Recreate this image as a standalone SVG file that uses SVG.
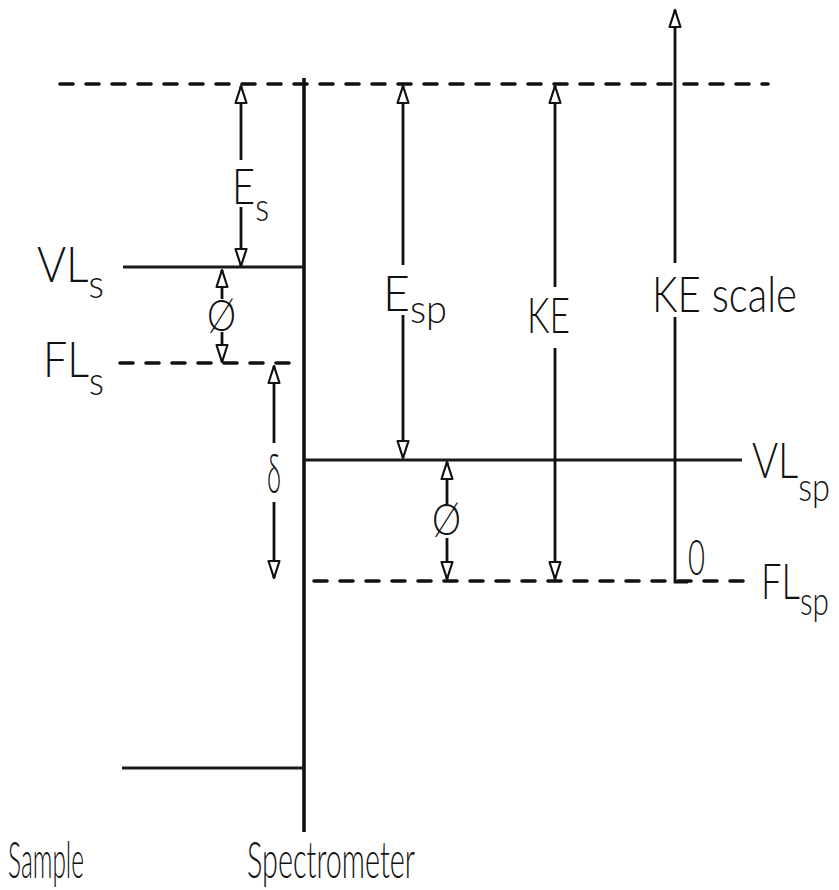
<svg xmlns="http://www.w3.org/2000/svg" width="839" height="890" viewBox="0 0 839 890">
  <style>
    .lvl { stroke:#1a1a1a; stroke-width:3.2; fill:none; }
    .dash { stroke:#111; stroke-width:3.6; fill:none; stroke-dasharray:13 13; stroke-linecap:round; }
    .wall { stroke:#111; stroke-width:3.6; fill:none; }
    .arr { stroke:#111; stroke-width:2.8; fill:none; }
    .up { marker-start:url(#ah); }
    .dn { marker-end:url(#ah); }
    .t { font-family:"Lato","Open Sans","Liberation Sans",sans-serif; font-weight:300; fill:#111; }
    .big { font-size:49px; }
    .sub { font-size:40px; }
    .cap { font-size:51px; }
    .sym { font-size:44px; }
  </style>
  <defs>
    <marker id="ah" viewBox="-20 -8 22 16" refX="0" refY="0" markerWidth="22" markerHeight="16" markerUnits="userSpaceOnUse" orient="auto-start-reverse">
      <path d="M0,0 L-17,-5.5 L-17,5.5 Z" fill="#fff" stroke="#111" stroke-width="2.2" stroke-linejoin="round"/>
    </marker>
  </defs>
  <rect width="839" height="890" fill="#fff"/>

  <!-- energy levels -->
  <g id="levels">
    <g id="vacuum-top"><line class="dash" x1="60" y1="84" x2="768" y2="84"/></g>
    <g id="interface"><line class="wall" x1="304" y1="78" x2="304" y2="832"/></g>
    <g id="VLs-level"><line class="lvl" x1="123" y1="267" x2="304" y2="267"/></g>
    <g id="FLs-level"><line class="dash" x1="120" y1="363" x2="300" y2="363"/></g>
    <g id="VLsp-level"><line class="lvl" x1="304" y1="460" x2="742" y2="460"/></g>
    <g id="FLsp-level"><line class="dash" x1="314" y1="581" x2="750" y2="581"/></g>
    <g id="bottom-level"><line class="lvl" x1="122" y1="768" x2="304" y2="768"/></g>
  </g>

  <!-- arrows -->
  <g id="connectors">
    <line class="arr up" x1="241" y1="86" x2="241" y2="160"/>
    <line class="arr dn" x1="241" y1="207" x2="241" y2="266"/>
    <line class="arr up" x1="222" y1="270" x2="222" y2="299"/>
    <line class="arr dn" x1="222" y1="332" x2="222" y2="362"/>
    <line class="arr up" x1="274" y1="366" x2="274" y2="443"/>
    <line class="arr dn" x1="274" y1="502" x2="274" y2="578"/>
    <line class="arr up" x1="403" y1="86" x2="403" y2="265"/>
    <line class="arr dn" x1="403" y1="315" x2="403" y2="458"/>
    <line class="arr up" x1="447" y1="462" x2="447" y2="504"/>
    <line class="arr dn" x1="447" y1="538" x2="447" y2="579"/>
    <line class="arr up" x1="555" y1="86" x2="555" y2="287"/>
    <line class="arr dn" x1="555" y1="348" x2="555" y2="579"/>
    <line class="arr up" x1="675" y1="10" x2="675" y2="263"/>
    <polyline class="arr" points="675,317 675,582 688,582"/>
  </g>

  <!-- labels -->
  <g id="label-VLs"><text class="t big" x="37" y="282" textLength="67" lengthAdjust="spacingAndGlyphs">VL<tspan class="sub" dy="16">s</tspan></text></g>
  <g id="label-FLs"><text class="t big" x="43" y="377" textLength="61" lengthAdjust="spacingAndGlyphs">FL<tspan class="sub" dy="18">s</tspan></text></g>
  <g id="label-Es"><text class="t big" x="232" y="204" textLength="37" lengthAdjust="spacingAndGlyphs">E<tspan class="sub" dy="17">s</tspan></text></g>
  <g id="label-Esp"><text class="t big" x="383" y="311" textLength="64" lengthAdjust="spacingAndGlyphs">E<tspan class="sub" dy="12">sp</tspan></text></g>
  <g id="label-KE"><text class="t big" x="527" y="333" textLength="43" lengthAdjust="spacingAndGlyphs">KE</text></g>
  <g id="label-KEscale"><text class="t big" x="652" y="312" textLength="145" lengthAdjust="spacingAndGlyphs">KE scale</text></g>
  <g id="label-VLsp"><text class="t big" x="752" y="478" textLength="78" lengthAdjust="spacingAndGlyphs">VL<tspan class="sub" dy="23">sp</tspan></text></g>
  <g id="label-FLsp"><text class="t big" x="761" y="599" textLength="68" lengthAdjust="spacingAndGlyphs">FL<tspan class="sub" dy="16">sp</tspan></text></g>
  <g id="label-zero"><text class="t big" x="688" y="575" textLength="17" lengthAdjust="spacingAndGlyphs">0</text></g>
  <g id="label-delta"><text class="t" style="font-size:56px" x="267" y="493" textLength="14" lengthAdjust="spacingAndGlyphs">δ</text></g>
  <g id="label-phi-s"><text class="t sym" x="207" y="331" textLength="29" lengthAdjust="spacingAndGlyphs">Ø</text></g>
  <g id="label-phi-sp"><text class="t sym" x="432" y="535" textLength="29" lengthAdjust="spacingAndGlyphs">Ø</text></g>
  <g id="label-sample"><text class="t cap" x="8" y="878" textLength="76" lengthAdjust="spacingAndGlyphs">Sample</text></g>
  <g id="label-spectrometer"><text class="t cap" x="247" y="878" textLength="168" lengthAdjust="spacingAndGlyphs">Spectrometer</text></g>
</svg>
